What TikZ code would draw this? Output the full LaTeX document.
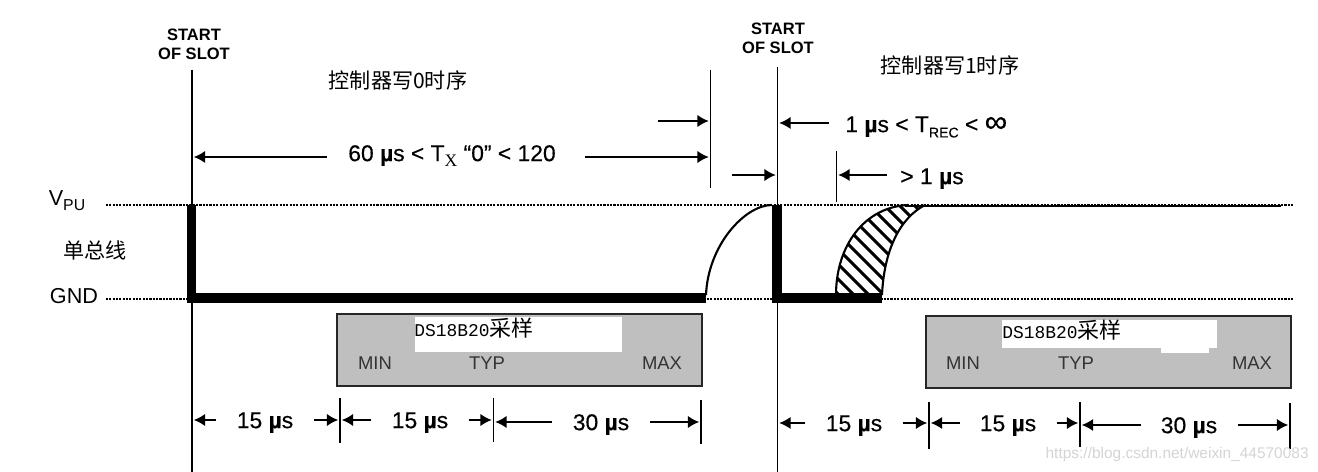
\documentclass[tikz,border=0pt]{standalone}
\usepackage{fontspec}
\setmainfont{Liberation Sans}
\newfontfamily\cjkfont{Noto Sans CJK SC}
\newfontfamily\dsfont{Liberation Mono}
\newfontfamily\valfont[FakeBold=0.35]{Liberation Sans}
\usetikzlibrary{arrows.meta}
\newcommand{\lowtxt}[1]{\raisebox{-3pt}{\fontsize{8}{8}\selectfont #1}}
\newcommand{\mus}{{\bfseries µ}s}
\tikzset{dim/.style={-{Latex[length=6.5pt,width=7pt]},line width=0.8pt,shorten >=1pt},
tickline/.style={line width=0.8pt},
level/.style={line width=0.6pt,dash pattern=on 1.2pt off 0.7pt},
sig/.style={line width=5.6pt,miter limit=10},
rise/.style={line width=1.2pt},
val/.style={font=\valfont\fontsize{13}{13}\selectfont,inner ysep=0pt,text height=9.3pt,text depth=0pt},
gap/.style={val,inner xsep=0.4cm},
slot/.style={font=\fontsize{9.4}{11}\selectfont\bfseries,align=center,inner sep=0pt},
rail/.style={font=\fontsize{12.3}{12.3}\selectfont,inner sep=0pt},
cjk/.style={font=\cjkfont\fontsize{12}{12}\selectfont,inner sep=0pt},
sample/.style={draw=black!85,fill=black!25,line width=0.9pt,minimum width=7.3cm,minimum height=1.44cm,inner sep=0pt},
limit/.style={font=\fontsize{10.5}{10.5}\selectfont,text=black!80,inner sep=0pt},
dsname/.style={anchor=west,inner sep=0pt}}
\begin{document}
\begin{tikzpicture}[x=0.02cm,y=-0.02cm]
	\useasboundingbox (0,0) rectangle (1318,472);

	% levels
	\node[rail] (vpu) at (67,201) {V\lowtxt{\fontsize{9}{9}\selectfont PU}};
	\node[rail] (gnd) at (74,296) {GND};
	\node[cjk] (bus) at (95,250) {单总线};
	\coordinate (vpuL) at (106,205);
	\coordinate (vpuR) at (1293,205);
	\coordinate (gndL) at (106,299);
	\coordinate (gndR) at (1293,299);
	\draw[level] (vpuL) -- (vpuR);
	\draw[level] (gndL) -- (gndR);

	% start of slot
	\node[slot] (start0) at (194,44) {START\\OF SLOT};
	\node[slot] (start1) at (778,38) {START\\OF SLOT};
	\coordinate (s0top) at (192,70);
	\coordinate (s0bot) at (192,472);
	\coordinate (s1top) at (777.5,67);
	\coordinate (s1bot) at (777.5,472);
	\draw[tickline] (s0top) -- (s0bot);
	\draw[tickline] (s1top) -- (s1bot);

	\node[cjk] (title0) at (398,80) {控制器写0时序};
	\node[cjk] (title1) at (950,65) {控制器写1时序};

	% upper dimensions
	\coordinate (e0top) at (710.5,70);
	\coordinate (e0bot) at (710.5,188);
	\coordinate (r1top) at (836.5,151);
	\coordinate (r1bot) at (836.5,202);
	\draw[tickline] (e0top) -- (e0bot);
	\draw[tickline] (r1top) -- (r1bot);

	\node[val,inner xsep=0pt] (tx) at (452,153) {60 \mus{} < T\lowtxt{\fontsize{10}{10}\fontspec{Liberation Serif}X} “0” < 120};
	\coordinate (txA) at (327,157);
	\coordinate (txB) at (585,157);
	\draw[dim] (txA) -- (txA -| s0top);
	\draw[dim] (txB) -- (txB -| e0top);

	\coordinate (recA) at (658,121);
	\coordinate (recC) at (732,175);
	\draw[dim] (recA) -- (recA -| e0top);
	\draw[dim] (recC) -- (recC -| s1top);

	\node[val,anchor=west,inner xsep=0pt] (trec) at (845,124) {1 \mus{} < T\lowtxt{REC} < {\fontsize{18}{13}\selectfont ∞}};
	\coordinate (trecT) at (829,123);
	\draw[dim] (trecT) -- (trecT -| s1top);

	\node[val,anchor=west,inner xsep=0pt] (gt) at (900,176) {> 1 \mus};
	\coordinate (gtT) at (887,175);
	\draw[dim] (gtT) -- (gtT -| r1top);

	% signal
	\coordinate (hatchtop) at (925,205);
	\begin{scope}
		\clip (836,295) .. controls (836,245) and (865,207) .. (908,205) -- (hatchtop)
			.. controls (900,218) and (884,250) .. (882,295) -- cycle;
		\foreach \c in {544,559,...,724}
			\draw[line width=1.7pt] (\c+200,200) -- (\c+300,300);
	\end{scope}
	\draw[rise] (836,295) .. controls (836,245) and (865,207) .. (908,205);
	\draw[rise] (882,295) .. controls (884,250) and (900,218) .. (hatchtop);
	\draw[rise] (706,295) .. controls (708,245) and (745,205) .. (772,205);
	\draw[sig] (191.5,205) |- (706,298);
	\draw[sig] (777,205) |- (882,298);
	\coordinate (highL) at (905,206);
	\coordinate (highR) at (1281,206);
	\draw[line width=1.5pt] (highL) -- (highR);

	% sampling windows
	\node[sample,anchor=north west] (box0) at (336,313) {};
	\node[sample,anchor=north west] (box1) at (925,315) {};
	\fill[white] (414.5,317) rectangle (622,352);
	\fill[white] (1002,320) rectangle (1217,348);
	\fill[white] (1161,347) rectangle (1209,353);
	\node[dsname] (ds0) at (414,328) {\dsfont\fontsize{10.2}{10}\selectfont DS18B20\cjkfont\fontsize{12.5}{12}\selectfont 采样};
	\node[dsname] (ds1) at (1002,330) {\dsfont\fontsize{10.2}{10}\selectfont DS18B20\cjkfont\fontsize{12.5}{12}\selectfont 采样};
	\node[limit] (min0) at (375,363) {MIN};
	\node[limit] (typ0) at (487,363) {TYP};
	\node[limit] (max0) at (662,363) {MAX};
	\node[limit] (min1) at (963,363) {MIN};
	\node[limit] (typ1) at (1076,363) {TYP};
	\node[limit] (max1) at (1252,363) {MAX};

	% lower dimensions
	\foreach \n/\x/\a/\b in {k0/340/398/443,k1/493.5/398/442,k2/701/400/444,k3/929/402/449,k4/1080/402/447,k5/1290/403/449}{
		\coordinate (\n) at (\x,\a);
		\draw[tickline] (\x,\a) -- (\x,\b);
	}

	\node[gap] (d0a) at (265,420) {15 \mus};
	\node[gap] (d0b) at (420,420) {15 \mus};
	\node[gap] (d0c) at (601,422) {30 \mus};
	\node[gap] (d1a) at (854,423) {15 \mus};
	\node[gap] (d1b) at (1008,423) {15 \mus};
	\node[gap] (d1c) at (1189,425) {30 \mus};
	\foreach \n/\l/\r in {d0a/s0top/k0,d0b/k0/k1,d0c/k1/k2,d1a/s1top/k3,d1b/k3/k4,d1c/k4/k5}{
		\draw[dim] (\n.west) -- (\n.west -| \l);
		\draw[dim] (\n.east) -- (\n.east -| \r);
	}

	\node[font=\fontsize{8.8}{8.8}\selectfont,text=black!17,anchor=east,inner sep=0pt] (wmark) at (1309,455) {https://blog.csdn.net/weixin\_44570083};
\end{tikzpicture}
\end{document}
